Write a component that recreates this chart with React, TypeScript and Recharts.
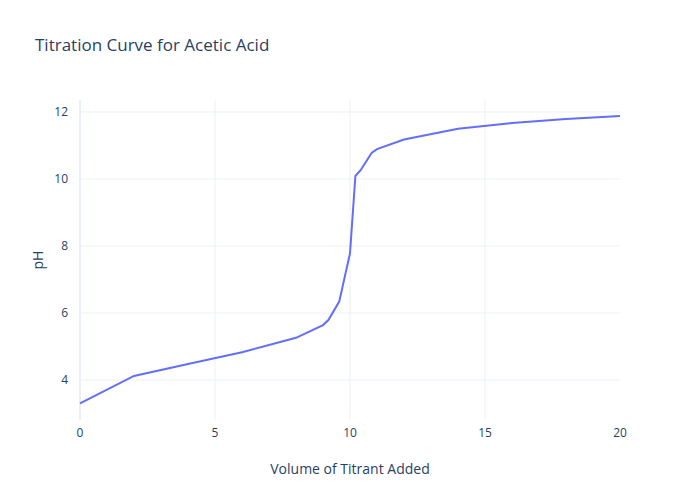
import React from 'react';
import { LineChart, Line, XAxis, YAxis, ReferenceLine } from 'recharts';

const volumes = [0, 2, 4, 6, 8, 9, 9.2, 9.6, 10, 10.2, 10.4, 10.8, 11, 12, 14, 16, 18, 20];
const phValues = [3.3, 4.12, 4.48, 4.83, 5.26, 5.64, 5.79, 6.34, 7.78, 10.09, 10.27, 10.78, 10.89, 11.18, 11.5, 11.67, 11.79, 11.88];

const xTicks = [0, 5, 10, 15, 20];
const yTicks = [4, 6, 8, 10, 12];
// plotly draws grid on inner ticks only, plus a thicker zero line
const xGrid = [5, 10, 15];

const data = volumes.map((v, i) => ({ volume: v, ph: phValues[i] }));

const FONT = '"Open Sans", sans-serif';
const INK = '#2a3f5f';
const GRID = '#ebf0f8';

export default function App() {
  return (
    <div style={{ position: 'absolute', left: 0, top: 0, width: 700, height: 500, background: '#fff', fontFamily: FONT }}>
      <div style={{ position: 'absolute', left: 35, top: 35, fontSize: 17, lineHeight: '20px', color: INK }}>
        Titration Curve for Acetic Acid
      </div>
      <LineChart width={700} height={500} data={data} margin={{ top: 100, right: 80, bottom: 0, left: 0 }}>
        <XAxis
          dataKey="volume"
          type="number"
          domain={[0, 20]}
          ticks={xTicks}
          height={80}
          axisLine={false}
          tickLine={false}
          tickSize={0}
          tickMargin={8}
          tick={{ fill: INK, fontSize: 12, fontFamily: FONT }}
          label={{ value: 'Volume of Titrant Added', position: 'insideBottom', offset: 26, fill: INK, fontSize: 14, fontFamily: FONT }}
        />
        <YAxis
          type="number"
          domain={[2.806, 12.358]}
          ticks={yTicks}
          width={80}
          axisLine={false}
          tickLine={false}
          tickSize={0}
          tickMargin={12}
          allowDataOverflow
          tick={{ fill: INK, fontSize: 12, fontFamily: FONT }}
          label={{ value: 'pH', angle: -90, position: 'center', dx: -2, fill: INK, fontSize: 14, fontFamily: FONT }}
        />
        {yTicks.map(t => (
          <ReferenceLine key={`y${t}`} y={t} stroke={GRID} strokeWidth={1} />
        ))}
        {xGrid.map(t => (
          <ReferenceLine key={`x${t}`} x={t} stroke={GRID} strokeWidth={1} />
        ))}
        <ReferenceLine x={0} stroke={GRID} strokeWidth={2} />
        <Line
          dataKey="ph"
          type="linear"
          stroke="#636efa"
          strokeWidth={2}
          dot={false}
          isAnimationActive={false}
        />
      </LineChart>
    </div>
  );
}
